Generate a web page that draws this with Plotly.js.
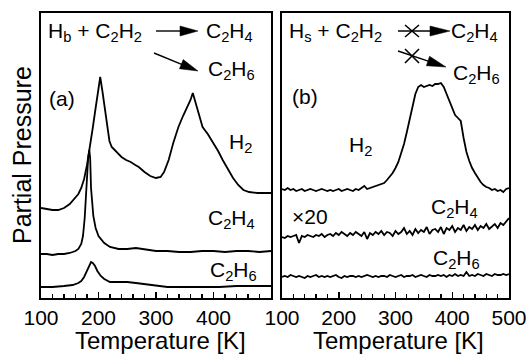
<!DOCTYPE html>
<html><head><meta charset="utf-8">
<script src="https://cdn.plot.ly/plotly-3.0.1.min.js"></script>
<style>html,body{margin:0;padding:0;background:#fff}</style>
</head><body><div id="chart" style="width:529px;height:354px"></div>
<script>
// ---- Panel (a): H_b + C2H2 ----
const tA_H2 = [100,110,120,130,140,150,158,165,170,175,180,185,190,195,200,203,207,211,215,219,223,228,234,240,248,256,264,270,280,290,300,308,314,322,330,339,347,355,360,364,368,373,381,390,399,408,416,425,434,443,452,462,477,490,500];
const vA_H2 = [90,89,88,88,90,94,99,104,110,119,133,150,170,190,211,221,206,190,173,157,151,148,144,141,138,136,133,131,126,122,120,121,126,138,155,171,182,191,198,205,197,186,171,164,156,147,138,129,120,113,108,106,105,105,105];
const tA_C2H4 = [100,110,120,130,140,150,160,165,170,173,176,178,180,182,184,185.5,187,189,191,195,200,210,220,235,250,265,280,300,320,340,360,380,400,420,440,460,480,500];
const vA_C2H4 = [44,44,43,44,44,45,47,49,54,62,80,100,123,140,148,140,110,90,82,70,62,55,51,49,49,50,49,47,47,46,46,47,47,46,47,47,46,47];
const tA_C2H6 = [100,120,140,155,165,170,175,180,184,187,190,194,198,204,210,220,235,250,265,280,290,300,320,350,380,410,440,470,500];
const vA_C2H6 = [11,11,12,13,15,17,21,27,33,36,35,32,27,22,19,16,16,16,15,14,13,12,11,11,11,11,12,12,12];

// ---- Panel (b): H_s + C2H2 ----
const tB = [100,105,110,115,120,125,130,135,140,145,150,155,160,165,170,175,180,185,190,195,200,205,210,215,220,225,230,235,240,245,250,255,260,265,270,275,280,285,290,295,300,305,310,315,320,325,330,335,340,345,350,355,360,365,370,375,380,385,390,395,400,405,410,415,420,425,430,435,440,445,450,455,460,465,470,475,480,485,490,495,500];
const vB_H2 = [109,108,110,108,109,107,108,109,107,108,109,108,107,108,109,108,107,108,107,108,109,107,108,109,108,107,109,108,110,112,109,110,111,112,113,114,115,118,121,125,130,136,145,154,166,178,192,204,211,213,211,212,213,212,214,214,215,211,204,197,191,183,180,177,160,146,137,130,125,120,116,113,111,110,108,109,107,108,106,109,110];
const vB_C2H4 = [61,60,62,61,62,63,55,62,61,63,62,61,63,62,64,61,63,64,62,65,63,66,64,62,65,63,66,64,62,66,59,65,63,66,64,67,63,66,65,62,67,64,66,70,64,67,63,69,65,68,66,71,64,68,69,66,71,64,70,68,72,66,70,68,73,67,71,69,73,68,72,70,74,69,72,74,70,75,73,76,80];
const vB_C2H6 = [21,22,21,23,22,21,22,21,20,22,21,22,23,21,22,21,22,21,22,23,21,20,22,21,22,22,21,22,21,22,23,22,21,22,21,22,22,21,23,22,21,22,23,21,22,22,23,21,22,23,22,21,23,22,22,23,22,23,21,23,22,24,22,23,22,26,22,23,22,24,23,22,24,23,22,24,23,23,24,23,24];

const xTickVals = [100,200,300,400,500];

const W = 529, H = 354;
const px = x => x / W;
const py = y => 1 - y / H;
const FONT = 'Liberation Sans, Arial, Helvetica, sans-serif';
const lineStyle = {color: '#000', width: 1.8};

const traces = [
  {x: tA_H2, y: vA_H2, xaxis: 'x', yaxis: 'y', mode: 'lines', line: lineStyle, name: 'H2 (a)'},
  {x: tA_C2H4, y: vA_C2H4, xaxis: 'x', yaxis: 'y', mode: 'lines', line: lineStyle, name: 'C2H4 (a)'},
  {x: tA_C2H6, y: vA_C2H6, xaxis: 'x', yaxis: 'y', mode: 'lines', line: lineStyle, name: 'C2H6 (a)'},
  {x: tB, y: vB_H2, xaxis: 'x2', yaxis: 'y2', mode: 'lines', line: lineStyle, name: 'H2 (b)'},
  {x: tB, y: vB_C2H4, xaxis: 'x2', yaxis: 'y2', mode: 'lines', line: lineStyle, name: 'C2H4 (b)'},
  {x: tB, y: vB_C2H6, xaxis: 'x2', yaxis: 'y2', mode: 'lines', line: lineStyle, name: 'C2H6 (b)'}
];

const xCommon = {
  tickmode: 'array', ticks: 'inside', ticklen: 6, tickwidth: 1.5, tickcolor: '#000',
  minor: {tickmode: 'linear', tick0: 100, dtick: 20, ticks: 'inside', ticklen: 4, tickwidth: 1.2, tickcolor: '#000'},
  showline: true, mirror: true, linecolor: '#000', linewidth: 2,
  showgrid: false, zeroline: false,
  tickfont: {family: FONT, size: 21, color: '#000'}
};
const yCommon = {
  range: [0, 285], showticklabels: false, ticks: '', showgrid: false, zeroline: false,
  showline: true, mirror: true, linecolor: '#000', linewidth: 2,
  domain: [py(298), py(13)]
};

const ann = [];
function txt(text, x, y, size, opts) {
  ann.push(Object.assign({text: text, xref: 'paper', yref: 'paper', x: px(x), y: py(y),
    xanchor: 'left', yanchor: 'middle', showarrow: false,
    font: {family: FONT, size: size, color: '#000'}}, opts || {}));
}
const shapes = [];
function pathOf(pts) {
  return 'M' + pts.map(p => px(p[0]) + ',' + py(p[1])).join('L') + 'Z';
}
function arrow(x0, y0, x1, y1, headLen, headHalf) {
  const dx = x1 - x0, dy = y1 - y0, L = Math.hypot(dx, dy);
  const ux = dx / L, uy = dy / L;
  const bx = x1 - ux * headLen, by = y1 - uy * headLen;
  shapes.push({type: 'line', xref: 'paper', yref: 'paper', x0: px(x0), y0: py(y0), x1: px(bx + ux), y1: py(by + uy),
    line: {color: '#000', width: 1.4}});
  shapes.push({type: 'path', xref: 'paper', yref: 'paper',
    path: pathOf([[x1, y1], [bx - uy * headHalf, by + ux * headHalf], [bx + uy * headHalf, by - ux * headHalf]]),
    fillcolor: '#000', line: {color: '#000', width: 0.5}});
}
function xmark(cx, cy, hw, hh) {
  const s = {type: 'line', xref: 'paper', yref: 'paper', line: {color: '#000', width: 1.6}};
  shapes.push(Object.assign({}, s, {x0: px(cx - hw), y0: py(cy - hh), x1: px(cx + hw), y1: py(cy + hh)}));
  shapes.push(Object.assign({}, s, {x0: px(cx - hw), y0: py(cy + hh), x1: px(cx + hw), y1: py(cy - hh)}));
}

// Panel (a) texts
txt('H<sub>b</sub> + C<sub>2</sub>H<sub>2</sub>', 46, 32, 21);
txt('C<sub>2</sub>H<sub>4</sub>', 204, 32, 21);
txt('C<sub>2</sub>H<sub>6</sub>', 206, 70, 21);
txt('(a)', 47, 98, 21);
txt('H<sub>2</sub>', 227, 143, 21);
txt('C<sub>2</sub>H<sub>4</sub>', 206, 219, 21);
txt('C<sub>2</sub>H<sub>6</sub>', 208, 271, 21);
arrow(156, 31, 198, 31, 18, 5);
arrow(154, 53, 198, 71, 18, 5);
// Panel (b) texts
txt('H<sub>s</sub> + C<sub>2</sub>H<sub>2</sub>', 287, 32, 21);
txt('C<sub>2</sub>H<sub>4</sub>', 449, 32, 21);
txt('C<sub>2</sub>H<sub>6</sub>', 451, 74, 21);
txt('(b)', 290, 97, 21);
txt('H<sub>2</sub>', 347, 146, 21);
txt('×20', 290, 217, 21);
txt('C<sub>2</sub>H<sub>4</sub>', 429, 208, 21);
txt('C<sub>2</sub>H<sub>6</sub>', 431, 259, 21);
arrow(398, 31, 450, 31, 20, 5);
arrow(398, 51, 446, 67, 19, 5);
xmark(412, 31, 7, 6);
xmark(412, 56, 7, 7);
// Axis titles
txt('Partial Pressure', 22, 155, 25, {xanchor: 'center', textangle: -90});
txt('Temperature [K]', 160, 340, 24, {xanchor: 'center'});
txt('Temperature [K]', 398, 340, 24, {xanchor: 'center'});

const layout = {
  width: W, height: H, margin: {l: 0, r: 0, t: 0, b: 0},
  paper_bgcolor: '#fff', plot_bgcolor: '#fff', showlegend: false,
  xaxis: Object.assign({}, xCommon, {domain: [px(41), px(271)], range: [100, 500], tickvals: xTickVals.slice(0, 4), anchor: 'y'}),
  xaxis2: Object.assign({}, xCommon, {domain: [px(282), px(509)], range: [100, 500], tickvals: xTickVals, anchor: 'y2'}),
  yaxis: Object.assign({}, yCommon, {anchor: 'x'}),
  yaxis2: Object.assign({}, yCommon, {anchor: 'x2'}),
  annotations: ann, shapes: shapes
};
Plotly.newPlot('chart', traces, layout, {displayModeBar: false, staticPlot: true});
</script></body></html>
